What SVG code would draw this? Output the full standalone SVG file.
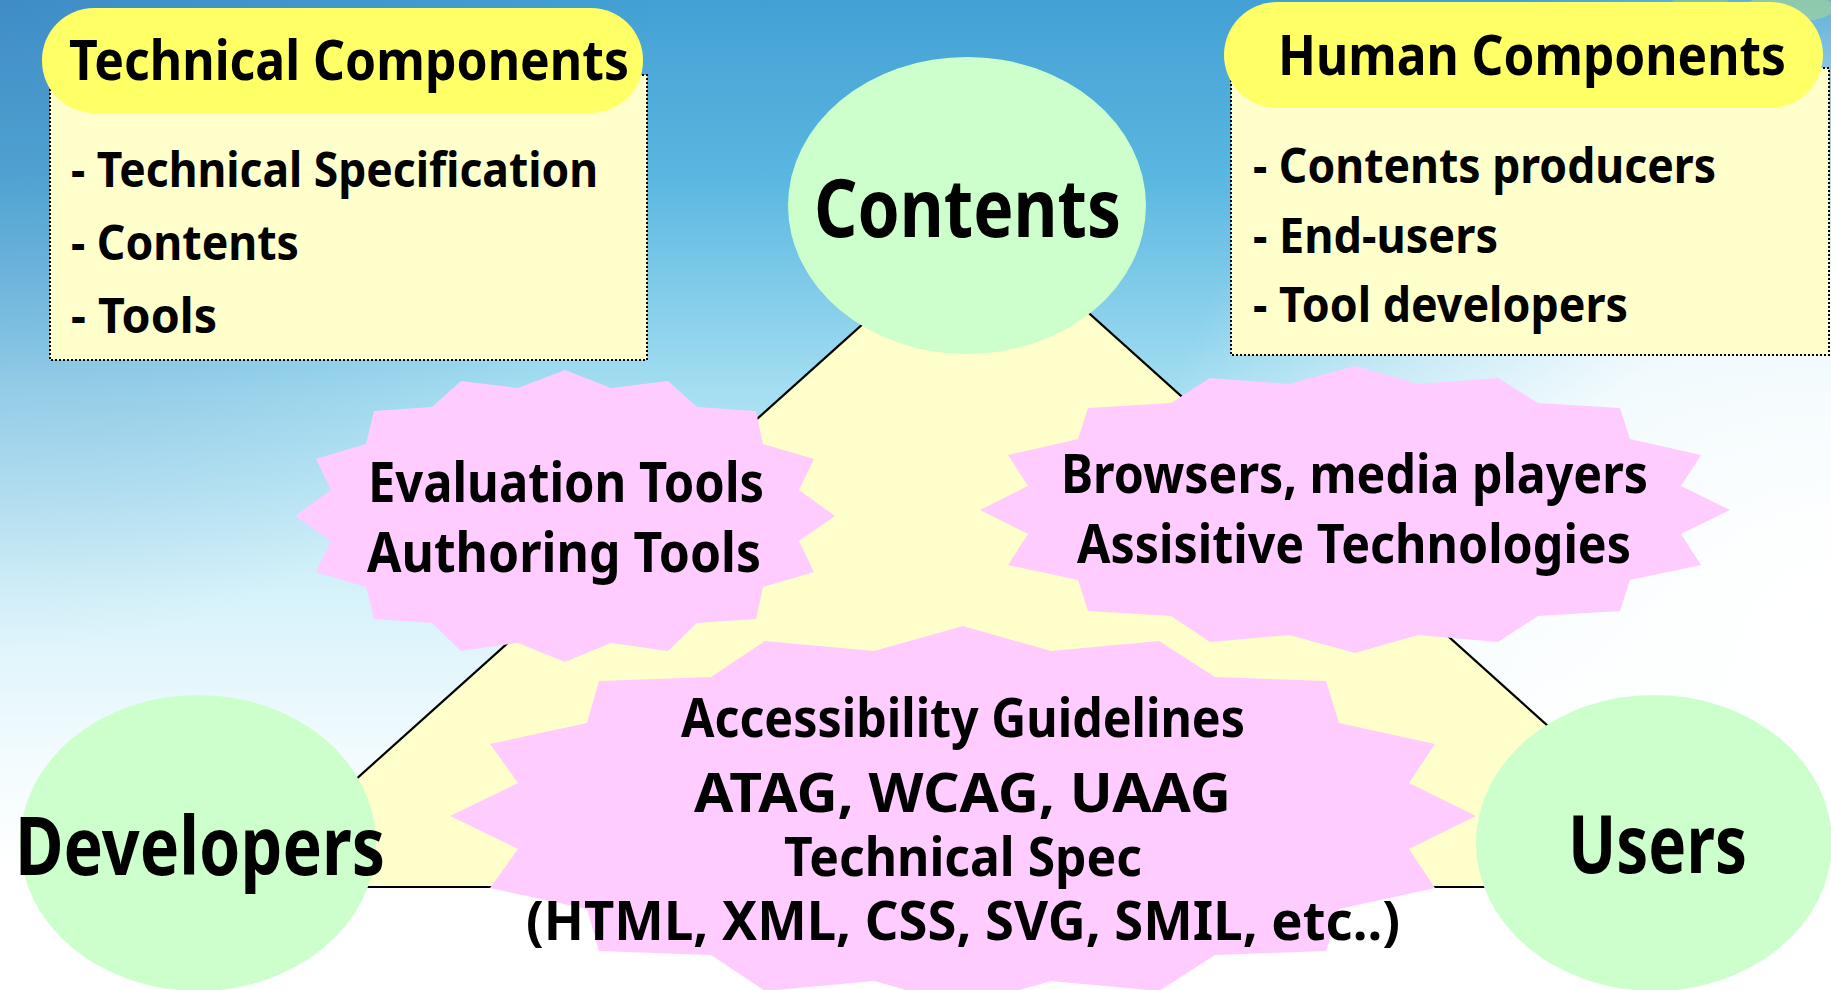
<svg xmlns="http://www.w3.org/2000/svg" width="1831" height="990" viewBox="0 0 1831 990">
<defs>
<linearGradient id="bgV" x1="0" y1="0" x2="0" y2="1">
<stop offset="0" stop-color="#43a0d4"/>
<stop offset="0.18" stop-color="#5ab7e0"/>
<stop offset="0.4" stop-color="#a6dff2"/>
<stop offset="0.6" stop-color="#d6f2fa"/>
<stop offset="0.76" stop-color="#f2fbfe"/>
<stop offset="0.88" stop-color="#ffffff"/>
</linearGradient>
<radialGradient id="bgL" cx="0" cy="0" r="650" gradientUnits="userSpaceOnUse">
<stop offset="0" stop-color="#3a6fb0" stop-opacity="0.4"/>
<stop offset="1" stop-color="#3a6fb0" stop-opacity="0"/>
</radialGradient>
<radialGradient id="bgR" cx="1831" cy="620" r="700" gradientUnits="userSpaceOnUse">
<stop offset="0" stop-color="#ffffff" stop-opacity="1"/>
<stop offset="0.45" stop-color="#ffffff" stop-opacity="0.85"/>
<stop offset="1" stop-color="#ffffff" stop-opacity="0"/>
</radialGradient>
</defs>
<style>
.t{font-family:"Noto Sans","Open Sans","Liberation Sans",sans-serif;font-weight:bold;fill:#000;}
.pill{fill:#ffff66;}
.box{fill:#ffffcc;stroke:#000;stroke-width:2;stroke-dasharray:2 2;}
.ell{fill:#ccffcc;}
.star{fill:#ffccff;}
.edge{stroke:#000;stroke-width:2.2;fill:none;}
.tri{fill:#ffffcc;}
</style>
<!-- background -->
<rect x="0" y="0" width="1831" height="990" fill="url(#bgV)"/>
<rect x="0" y="0" width="1831" height="990" fill="url(#bgL)"/>
<rect x="0" y="0" width="1831" height="990" fill="url(#bgR)"/>
<ellipse cx="1790" cy="8" rx="45" ry="14" fill="#9fd39a" opacity="0.7"/>
<ellipse cx="1700" cy="4" rx="30" ry="8" fill="#8fcf8a" opacity="0.6"/>

<polygon class="tri" points="982,217 1727,887 236,887"/>
<g id="connectors">
<line class="edge" x1="982" y1="217" x2="236" y2="887"/>
<line class="edge" x1="982" y1="217" x2="1727" y2="887"/>
<line class="edge" x1="236" y1="887" x2="1727" y2="887"/>
</g>

<g id="node-contents">
<ellipse class="ell" cx="967" cy="205.5" rx="179" ry="148.5"/>
<text class="t" x="814" y="237" font-size="80" textLength="307" lengthAdjust="spacingAndGlyphs">Contents</text>
</g>
<g id="node-developers">
<ellipse class="ell" cx="198" cy="843" rx="178" ry="148"/>
<text class="t" x="15" y="875" font-size="80" textLength="370" lengthAdjust="spacingAndGlyphs">Developers</text>
</g>
<g id="node-users">
<ellipse class="ell" cx="1654" cy="843" rx="178" ry="148"/>
<text class="t" x="1568" y="873" font-size="80" textLength="179" lengthAdjust="spacingAndGlyphs">Users</text>
</g>

<g id="node-tools">
<polygon class="star" points="565,370 611,388 668,381 697,407 756,411 763,444 814,459 799,490 835,516 799,541 814,572 763,587 756,619 697,623 668,651 611,643 565,662 518,643 461,651 432,623 374,619 366,587 316,572 331,541 295,516 331,490 316,459 366,444 374,411 432,407 461,381 518,388"/>
<text class="t" x="368" y="502" font-size="56" textLength="396" lengthAdjust="spacingAndGlyphs">Evaluation Tools</text>
<text class="t" x="367" y="572" font-size="56" textLength="394" lengthAdjust="spacingAndGlyphs">Authoring Tools</text>
</g>

<g id="node-browsers">
<polygon class="star" points="1355,366 1418,384 1498,378 1538,403 1620,408 1630,439 1701,455 1681,486 1730,510 1681,534 1701,565 1630,580 1620,611 1538,616 1498,642 1418,635 1355,653 1289,635 1210,642 1171,616 1088,611 1078,580 1008,565 1028,534 980,510 1028,486 1008,455 1078,439 1088,408 1171,403 1210,378 1289,384"/>
<text class="t" x="1061" y="493" font-size="53" textLength="587" lengthAdjust="spacingAndGlyphs">Browsers, media players</text>
<text class="t" x="1077" y="563" font-size="53" textLength="554" lengthAdjust="spacingAndGlyphs">Assisitive Technologies</text>
</g>

<g id="node-guidelines">
<polygon class="star" points="450,816 518,783 490,744 587,723 599,681 711,677 765,641 874,651 963,626 1051,651 1159,641 1215,677 1326,681 1339,723 1435,744 1409,783 1476,816 1409,849 1435,888 1339,909 1326,951 1215,955 1159,991 1051,981 963,1006 874,981 765,991 711,955 599,951 587,909 490,888 518,849"/>
<text class="t" x="681" y="737" font-size="53" textLength="564" lengthAdjust="spacingAndGlyphs">Accessibility Guidelines</text>
<text class="t" x="694" y="812" font-size="53" textLength="537" lengthAdjust="spacingAndGlyphs">ATAG, WCAG, UAAG</text>
<text class="t" x="784" y="876" font-size="53" textLength="358" lengthAdjust="spacingAndGlyphs">Technical Spec</text>
<text class="t" x="526" y="940" font-size="53" textLength="874" lengthAdjust="spacingAndGlyphs">(HTML, XML, CSS, SVG, SMIL, etc..)</text>
</g>

<g id="node-technical-components">
<rect class="box" x="50" y="75" width="597" height="285"/>
<rect class="pill" x="42" y="8" width="601" height="105" rx="52" ry="52"/>
<text class="t" x="69" y="80" font-size="56" textLength="560" lengthAdjust="spacingAndGlyphs">Technical Components</text>
<text class="t" x="71" y="187" font-size="48" textLength="527" lengthAdjust="spacingAndGlyphs">- Technical Specification</text>
<text class="t" x="71" y="260" font-size="48" textLength="228" lengthAdjust="spacingAndGlyphs">- Contents</text>
<text class="t" x="71" y="333" font-size="48" textLength="146" lengthAdjust="spacingAndGlyphs">- Tools</text>
</g>

<g id="node-human-components">
<rect class="box" x="1231" y="68" width="598" height="287"/>
<rect class="pill" x="1224" y="2" width="599" height="106" rx="53" ry="53"/>
<text class="t" x="1278" y="75" font-size="56" textLength="508" lengthAdjust="spacingAndGlyphs">Human Components</text>
<text class="t" x="1253" y="183" font-size="48" textLength="463" lengthAdjust="spacingAndGlyphs">- Contents producers</text>
<text class="t" x="1253" y="253" font-size="48" textLength="245" lengthAdjust="spacingAndGlyphs">- End-users</text>
<text class="t" x="1253" y="322" font-size="48" textLength="375" lengthAdjust="spacingAndGlyphs">- Tool developers</text>
</g>
</svg>
